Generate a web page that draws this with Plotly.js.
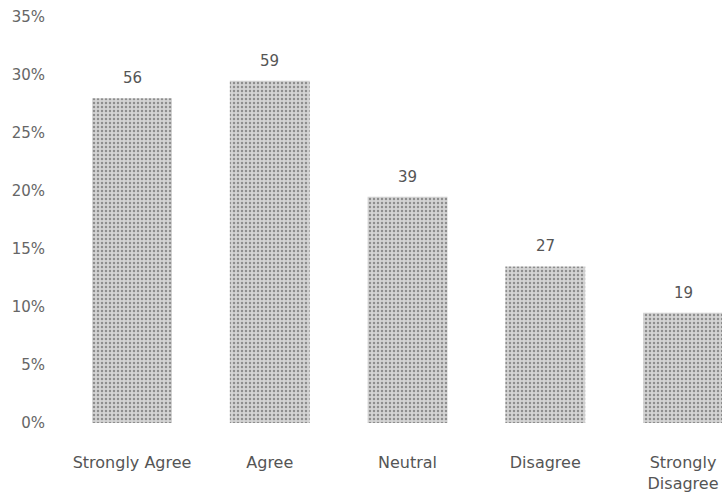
<!DOCTYPE html>
<html><head><meta charset="utf-8">
<script src="https://cdn.plot.ly/plotly-3.0.1.min.js"></script>
<style>html,body{margin:0;padding:0;background:#fff;}#chart{width:722px;height:497px;}</style>
</head><body><div id="chart"></div>
<script>
var categories = ["Strongly Agree", "Agree", "Neutral", "Disagree", "Strongly<br>Disagree"];
var counts = [56, 59, 39, 27, 19];
var total = 200;
var percents = counts.map(function(c){ return c / total * 100; });
var yTickVals = [0, 5, 10, 15, 20, 25, 30, 35];
var yTickText = ["0%", "5%", "10%", "15%", "20%", "25%", "30%", "35%"];

var fontFam = '"DejaVu Sans", "Open Sans", sans-serif';

var trace = {
  type: 'bar',
  x: categories,
  y: percents,
  width: 0.58,
  marker: {
    color: '#c8c8c8',
    line: {width: 0},
    pattern: {shape: '.', fgcolor: '#8e8e8e', bgcolor: '#d4d4d4', size: 4, solidity: 0.3}
  },
  hoverinfo: 'none'
};

var annotations = categories.map(function(c, i){
  return {x: c, y: percents[i], text: String(counts[i]), showarrow: false,
          yanchor: 'bottom', yshift: 9,
          font: {family: fontFam, size: 15, color: '#555'}};
});

var layout = {
  width: 722, height: 497,
  margin: {l: 60, r: 0, t: 17, b: 74},
  paper_bgcolor: '#fff', plot_bgcolor: '#fff',
  showlegend: false,
  font: {family: fontFam, size: 14, color: '#555'},
  xaxis: {
    type: 'category',
    range: [-0.523, 4.283],
    showgrid: false, zeroline: false, showline: false, ticks: '',
    ticklabelstandoff: 28,
    tickfont: {family: fontFam, size: 16, color: '#555'}
  },
  yaxis: {
    range: [0, 35],
    tickvals: yTickVals, ticktext: yTickText,
    showgrid: false, zeroline: false, showline: false, ticks: '',
    ticklabelstandoff: 14,
    tickfont: {family: fontFam, size: 15, color: '#666'}
  },
  annotations: annotations
};

Plotly.newPlot('chart', [trace], layout, {displayModeBar: false, staticPlot: true});
</script>
</body></html>
